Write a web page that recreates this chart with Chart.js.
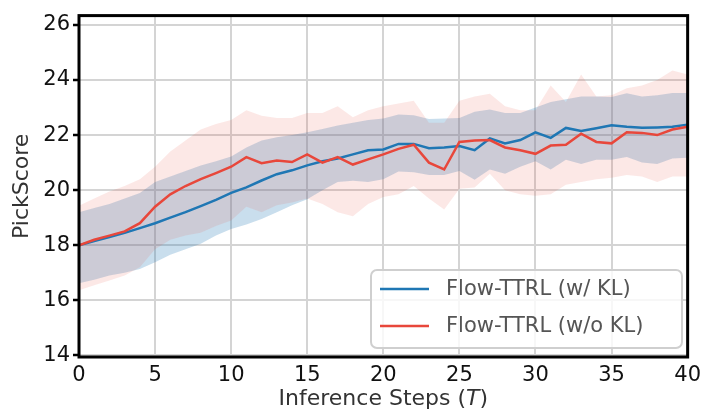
<!DOCTYPE html>
<html>
<head>
<meta charset="utf-8">
<script src="https://cdn.jsdelivr.net/npm/chart.js@4.4.1/dist/chart.umd.min.js"></script>
<style>
  html, body { margin: 0; padding: 0; background: #ffffff; }
  #wrap { width: 707px; height: 413px; position: relative; }
</style>
</head>
<body>
<div id="wrap"><canvas id="chart" width="707" height="413"></canvas></div>
<script>
// Inference steps T
const steps = [0, 1, 2, 3, 4, 5, 6, 7, 8, 9, 10, 11, 12, 13, 14, 15, 16, 17, 18, 19, 20,
               21, 22, 23, 24, 25, 26, 27, 28, 29, 30, 31, 32, 33, 34, 35, 36, 37, 38, 39, 40];

// Flow-TTRL (w/ KL): mean PickScore and its spread
const klMean = [18.0, 18.15, 18.3, 18.45, 18.62, 18.8, 19.0, 19.2, 19.42, 19.65, 19.9,
                20.1, 20.35, 20.58, 20.72, 20.9, 21.05, 21.15, 21.3, 21.45, 21.48,
                21.68, 21.68, 21.52, 21.55, 21.6, 21.45, 21.88, 21.7, 21.82, 22.1,
                21.9, 22.26, 22.15, 22.25, 22.36, 22.3, 22.27, 22.28, 22.3, 22.38];
const klUpper = [19.2, 19.35, 19.5, 19.7, 19.9, 20.3, 20.5, 20.7, 20.9, 21.05, 21.22,
                 21.55, 21.8, 21.92, 22.0, 22.1, 22.22, 22.35, 22.45, 22.55, 22.6,
                 22.75, 22.72, 22.58, 22.6, 22.62, 22.85, 22.93, 22.8, 22.8, 23.0,
                 23.2, 23.3, 23.4, 23.4, 23.38, 23.52, 23.4, 23.45, 23.53, 23.53];
const klLower = [16.62, 16.75, 16.9, 17.0, 17.14, 17.38, 17.65, 17.85, 18.05, 18.35, 18.59,
                 18.75, 18.95, 19.2, 19.45, 19.67, 20.0, 20.3, 20.34, 20.3, 20.4,
                 20.68, 20.65, 20.55, 20.55, 20.7, 20.38, 20.75, 20.6, 20.85, 21.05,
                 20.75, 21.1, 20.95, 21.1, 21.1, 21.2, 21.0, 20.95, 21.15, 21.18];

// Flow-TTRL (w/o KL): mean PickScore and its spread
const noKlMean = [18.0, 18.2, 18.35, 18.5, 18.8, 19.4, 19.85, 20.15, 20.4, 20.62, 20.85,
                  21.2, 20.98, 21.08, 21.02, 21.3, 21.0, 21.2, 20.93, 21.12, 21.3,
                  21.5, 21.65, 21.0, 20.75, 21.75, 21.8, 21.82, 21.55, 21.45, 21.32,
                  21.62, 21.65, 22.05, 21.75, 21.7, 22.1, 22.08, 22.0, 22.2, 22.3];
const noKlUpper = [19.43, 19.7, 19.95, 20.15, 20.4, 20.85, 21.4, 21.8, 22.2, 22.4, 22.55,
                   22.9, 22.7, 22.62, 22.62, 22.8, 22.8, 23.05, 22.65, 22.9, 23.05,
                   23.15, 23.25, 22.45, 22.45, 23.25, 23.4, 23.5, 23.05, 22.9, 22.9,
                   23.8, 23.2, 24.2, 23.4, 23.45, 23.7, 23.8, 24.0, 24.35, 24.2];
const noKlLower = [16.36, 16.55, 16.72, 16.9, 17.2, 17.85, 18.2, 18.35, 18.45, 18.7, 18.9,
                   19.4, 19.2, 19.45, 19.55, 19.7, 19.5, 19.2, 19.05, 19.5, 19.75,
                   19.85, 20.15, 19.7, 19.3, 20.05, 20.1, 20.6, 20.0, 19.85, 19.8,
                   19.85, 20.2, 20.3, 20.4, 20.45, 20.55, 20.5, 20.3, 20.5, 20.5];

// Axis tick labels
const xTicks = [0, 5, 10, 15, 20, 25, 30, 35, 40];
const yTicks = [14, 16, 18, 20, 22, 24, 26];

const seriesNames = ['Flow-TTRL (w/ KL)', 'Flow-TTRL (w/o KL)'];
const BLUE = '#1f77b4';
const RED = '#e8473b';
const FONT = "'DejaVu Sans', 'Liberation Sans', sans-serif";

const pts = arr => arr.map((v, i) => ({ x: steps[i], y: v }));

const lineStyle = color => ({
  borderColor: color, borderWidth: 2.5, pointRadius: 0, fill: false, tension: 0
});
const bandEdge = fill => ({
  borderColor: 'rgba(0,0,0,0)', borderWidth: 0, pointRadius: 0, tension: 0,
  fill: fill ? '+1' : false, backgroundColor: fill || 'rgba(0,0,0,0)'
});

// Datasets are drawn from the last index to the first, so bands go underneath the lines.
const datasets = [
  Object.assign({ label: seriesNames[1], data: pts(noKlMean) }, lineStyle(RED)),
  Object.assign({ label: seriesNames[0], data: pts(klMean) }, lineStyle(BLUE)),
  Object.assign({ label: 'noKlUpper', data: pts(noKlUpper) }, bandEdge('rgba(231,76,60,0.13)')),
  Object.assign({ label: 'noKlLower', data: pts(noKlLower) }, bandEdge(null)),
  Object.assign({ label: 'klUpper', data: pts(klUpper) }, bandEdge('rgba(31,119,180,0.245)')),
  Object.assign({ label: 'klLower', data: pts(klLower) }, bandEdge(null))
];

// Frame around the plot, legend box and the x-axis title with an italic T
const decorations = {
  id: 'decorations',
  afterDatasetsDraw(chart) {
    const { ctx, chartArea: a } = chart;
    ctx.save();
    ctx.strokeStyle = '#000';
    ctx.lineWidth = 3;
    ctx.strokeRect(a.left, a.top, a.right - a.left, a.bottom - a.top);
    ctx.restore();
  },
  afterDraw(chart) {
    const { ctx, chartArea: a } = chart;
    ctx.save();

    // legend
    const bx = 371, by = 270, bw = 311, bh = 78, r = 6;
    ctx.beginPath();
    ctx.moveTo(bx + r, by);
    ctx.arcTo(bx + bw, by, bx + bw, by + bh, r);
    ctx.arcTo(bx + bw, by + bh, bx, by + bh, r);
    ctx.arcTo(bx, by + bh, bx, by, r);
    ctx.arcTo(bx, by, bx + bw, by, r);
    ctx.closePath();
    ctx.fillStyle = 'rgba(255,255,255,0.8)';
    ctx.fill();
    ctx.strokeStyle = '#cfcfcf';
    ctx.lineWidth = 2;
    ctx.stroke();

    const entries = [
      { text: seriesNames[0], color: BLUE, y: 289 },
      { text: seriesNames[1], color: RED, y: 326 }
    ];
    ctx.font = '21px ' + FONT;
    ctx.textBaseline = 'middle';
    ctx.textAlign = 'left';
    entries.forEach(e => {
      ctx.beginPath();
      ctx.strokeStyle = e.color;
      ctx.lineWidth = 2.5;
      ctx.moveTo(380, e.y);
      ctx.lineTo(429, e.y);
      ctx.stroke();
      ctx.fillStyle = '#555';
      ctx.fillText(e.text, 446, e.y + 1);
    });

    // x-axis title
    const parts = [
      { t: 'Inference Steps (', f: '22px ' + FONT },
      { t: 'T', f: 'italic 22px ' + FONT },
      { t: ')', f: '22px ' + FONT }
    ];
    let total = 0;
    parts.forEach(p => { ctx.font = p.f; p.w = ctx.measureText(p.t).width; total += p.w; });
    let x = (a.left + a.right) / 2 - total / 2;
    ctx.fillStyle = '#333';
    ctx.textBaseline = 'middle';
    parts.forEach(p => { ctx.font = p.f; ctx.fillText(p.t, x, 399); x += p.w; });
    ctx.restore();
  }
};

new Chart(document.getElementById('chart'), {
  type: 'line',
  data: { datasets },
  options: {
    responsive: false,
    animation: false,
    devicePixelRatio: 1,
    layout: { padding: { top: 14, right: 17, left: 0, bottom: 0 } },
    plugins: { legend: { display: false }, tooltip: { enabled: false } },
    scales: {
      x: {
        type: 'linear', min: 0, max: 40,
        afterBuildTicks: s => { s.ticks = xTicks.map(v => ({ value: v })); },
        afterFit: s => { s.height = 56; },
        grid: { color: '#d4d4d4', lineWidth: 2, drawTicks: false },
        border: { display: false },
        ticks: { padding: 6, color: '#111', font: { family: FONT, size: 21 } }
      },
      y: {
        type: 'linear', min: 13.94, max: 26.34,
        afterBuildTicks: s => { s.ticks = yTicks.map(v => ({ value: v })); },
        afterFit: s => { s.width = 79; },
        grid: { color: '#d4d4d4', lineWidth: 2, tickColor: '#000', tickLength: 6, tickWidth: 2.5 },
        border: { display: false },
        ticks: { padding: 3, color: '#111', font: { family: FONT, size: 21 } },
        title: {
          display: true, text: 'PickScore', color: '#333',
          font: { family: FONT, size: 22 }, padding: { top: 9, bottom: 0 }
        }
      }
    }
  },
  plugins: [decorations]
});
</script>
</body>
</html>
